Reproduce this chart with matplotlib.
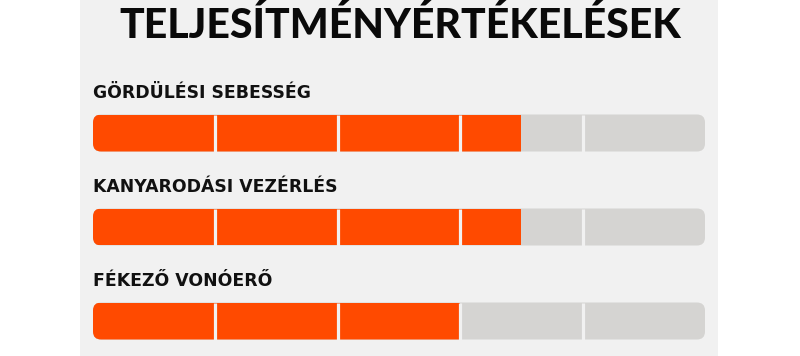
import matplotlib
matplotlib.use("Agg")
import matplotlib.pyplot as plt
from matplotlib.patches import FancyBboxPatch, Rectangle

categories = ["GÖRDÜLÉSI SEBESSÉG", "KANYARODÁSI VEZÉRLÉS", "FÉKEZŐ VONÓERŐ"]
scores = [3.5, 3.5, 3.0]
max_score = 5
title = "TELJESÍTMÉNYÉRTÉKELÉSEK"

ORANGE = "#ff4a00"
TRACK = "#d5d4d2"
PANEL = "#f1f1f1"

W, H = 800, 356
fig = plt.figure(figsize=(W / 100, H / 100), dpi=100)
fig.patch.set_facecolor("white")
fig.patches.append(Rectangle((80 / W, 0), (718 - 80) / W, 1, transform=fig.transFigure,
                             facecolor=PANEL, edgecolor="none", zorder=-5))

left, right = 93, 705
ax = fig.add_axes([left / W, 0, (right - left) / W, 1])
ax.set_facecolor("none")
first_center, spacing = 133, 94
ax.set_xlim(0, max_score)
ax.set_ylim((H - first_center) / spacing, -first_center / spacing)
ax.axis("off")

bar_h = 37 / spacing
px_x = max_score / (right - left)
aspect = (1 / spacing) / px_x
for i, (cat, val) in enumerate(zip(categories, scores)):
    track = FancyBboxPatch((0, i - bar_h / 2), max_score, bar_h,
                           boxstyle="round,pad=0,rounding_size=%f" % (8 * px_x),
                           mutation_aspect=aspect, facecolor=TRACK, edgecolor="none", zorder=1)
    ax.add_patch(track)
    bars = ax.barh([i], [val], height=bar_h, left=0, color=ORANGE, zorder=2)
    for b in bars:
        b.set_clip_path(track)
    ax.vlines(range(1, max_score), i - bar_h / 2, i + bar_h / 2, colors=PANEL, linewidth=2.3, zorder=3)
    ax.text(0, i - 40 / spacing, cat, fontsize=12.4, fontweight="bold", family="DejaVu Sans",
            color="#111111", va="center", ha="left")

fig.text(0.5, 1 - 25 / H, title, fontsize=29.5, fontweight="black", family="Lato",
         color="#0a0a0a", ha="center", va="center")

fig.savefig("out.png", dpi=100)
